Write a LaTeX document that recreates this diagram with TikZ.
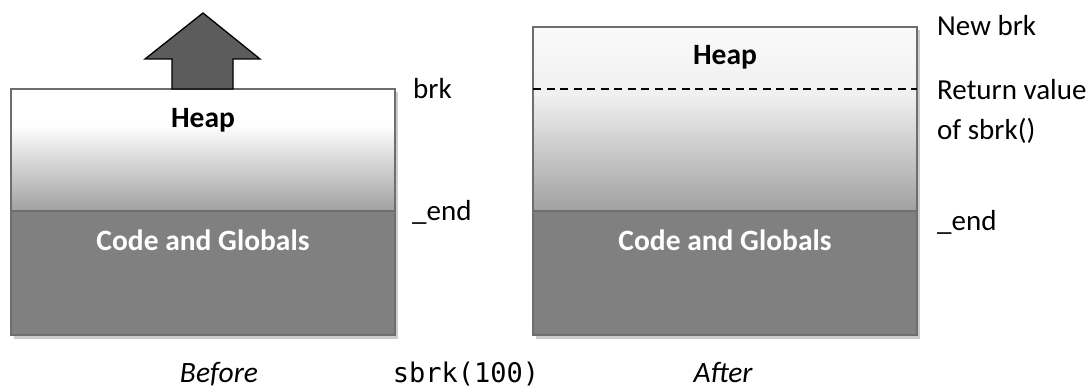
\documentclass[tikz,border=0pt]{standalone}
\usepackage{fontspec}
\setmainfont{Carlito}
\setmonofont{DejaVu Sans Mono}
\begin{document}
\begin{tikzpicture}[x=1pt,y=-1pt,
  boxline/.style={draw=black!57,line width=1.7pt},
  codefill/.style={fill=black!50},
  shadowbox/.style={fill=black!20},
  lbl/.style={anchor=base west,inner sep=0pt,font=\fontsize{29}{34}\selectfont},
  boldw/.style={anchor=base,font=\fontsize{29.5}{34}\selectfont\bfseries,inner sep=0pt},
  captext/.style={anchor=base,font=\fontsize{29.5}{34}\selectfont\itshape,inner sep=0pt},
  monotext/.style={anchor=base,inner sep=0pt,font=\fontsize{27}{32}\selectfont\ttfamily},
  arrowfill/.style={fill=black!64,draw=black,line width=1.3pt,line join=miter}]
\useasboundingbox (0,0) rectangle (1091,390);
% ---------- Before box ----------
\fill[shadowbox] (14,92) rectangle (398,339);
\fill[white] (11,89) rectangle (395,125);
\shade[top color=white,bottom color=black!37] (11,125) rectangle (395,211);
\fill[codefill] (11,211) rectangle (395,335);
\draw[boxline] (11,89) rectangle (395,335);
\draw[boxline] (11,211) -- (395,211);
\node[boldw] (heapL) at (203,128) {Heap};
\node[boldw,text=white] (codeL) at (203,250) {Code and Globals};
% arrow
\draw[arrowfill] (172,89) -- (172,59) -- (145,59) -- (203,13) -- (260,59) -- (233,59) -- (233,89) -- cycle;
\node[lbl] (brk) at (413,99) {brk};
\node[lbl] (endL) at (412,220) {\_end};
% ---------- After box ----------
\fill[shadowbox] (536,30) rectangle (920,339);
\shade[top color=black!2,bottom color=black!6] (533,27) rectangle (917,95);
\shade[top color=black!6,bottom color=black!37] (533,95) rectangle (917,211);
\fill[codefill] (533,211) rectangle (917,335);
\draw[boxline] (533,27) rectangle (917,335);
\draw[boxline] (533,211) -- (917,211);
\draw[black,line width=1.2pt,dash pattern=on 8pt off 5.5pt] (533,89) -- (917,89);
\node[boldw] (heapR) at (725,65) {Heap};
\node[boldw,text=white] (codeR) at (725,250) {Code and Globals};
\node[lbl] (newbrk) at (937,36) {New brk};
\node[lbl] (ret) at (937,100) {Return value};
\node[lbl] (ofs) at (937,140) {of sbrk()};
\node[lbl] (endR) at (937,230) {\_end};
% ---------- captions ----------
\node[captext] (before) at (219,382) {Before};
\node[monotext] (call) at (466,382) {sbrk(100)};
\node[captext] (after) at (723,382) {After};
\end{tikzpicture}
\end{document}
